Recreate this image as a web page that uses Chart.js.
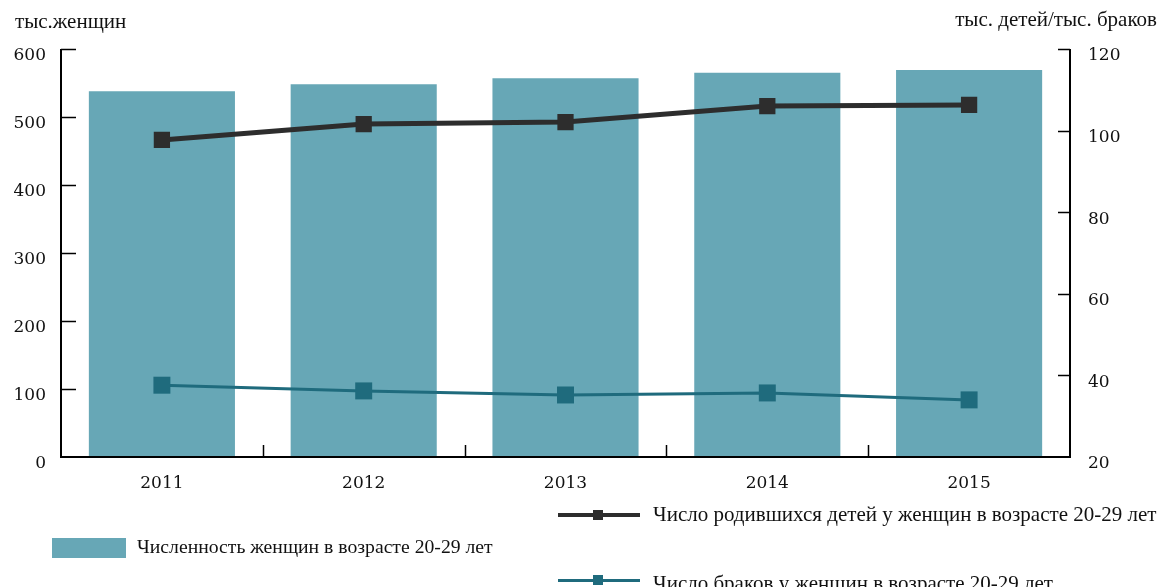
<!DOCTYPE html>
<html>
<head>
<meta charset="utf-8">
<script src="https://cdn.jsdelivr.net/npm/chart.js@4.4.1/dist/chart.umd.min.js"></script>
<style>
  html, body { margin: 0; padding: 0; background: #fff; }
  #wrap { position: relative; width: 1163px; height: 587px; overflow: hidden; font-family: "Liberation Serif", "DejaVu Serif", serif; color: #111; }
  canvas { position: absolute; left: 0; top: 0; }
  .t { position: absolute; white-space: nowrap; font-size: 21px; line-height: 1; }
  .sw { position: absolute; }
</style>
</head>
<body>
<div id="wrap">
  <canvas id="c" width="1163" height="587"></canvas>
  <div class="t" id="tl" style="left:15px; top:11px;">тыс.женщин</div>
  <div class="t" id="tr" style="right:6px; top:9px;">тыс. детей/тыс. браков</div>

  <div class="sw" style="left:52px; top:538px; width:74px; height:20px; background:#67a7b6;"></div>
  <div class="t" style="left:137px; top:537px; font-size:19.7px;">Численность женщин в возрасте 20-29 лет</div>

  <div class="sw" style="left:558px; top:513px; width:82px; height:4px; background:#2d2d2d;"></div>
  <div class="sw" style="left:593px; top:510px; width:10px; height:10px; background:#2d2d2d;"></div>
  <div class="t" style="left:653px; top:504px;">Число родившихся детей у женщин в возрасте 20-29 лет</div>

  <div class="sw" style="left:558px; top:579px; width:82px; height:3px; background:#1f6b7d;"></div>
  <div class="sw" style="left:593px; top:575px; width:10px; height:10px; background:#1f6b7d;"></div>
  <div class="t" style="left:653px; top:573px;">Число браков у женщин в возрасте 20-29 лет</div>
</div>
<script>
const years = ['2011', '2012', '2013', '2014', '2015'];
const womenThousands = [538, 548, 557, 565, 569];
const birthsPerThousand = [97.7, 101.6, 102.1, 106.0, 106.3];
const marriagesPerThousand = [37.6, 36.2, 35.2, 35.7, 34.0];
const leftTicks = [0, 100, 200, 300, 400, 500, 600];
const rightTicks = [20, 40, 60, 80, 100, 120];

const BAR = '#67a7b6', BLACK = '#2d2d2d', TEAL = '#1f6b7d';
const TICK_FONT = '17px "DejaVu Serif", serif';

const axisPlugin = {
  id: 'axisPlugin',
  afterDraw(chart) {
    const ctx = chart.ctx;
    const a = chart.chartArea;
    const y = chart.scales.y, y1 = chart.scales.y1, x = chart.scales.x;
    ctx.save();
    ctx.strokeStyle = '#000';
    ctx.lineWidth = 2;
    ctx.beginPath();
    ctx.moveTo(a.left, a.top); ctx.lineTo(a.left, a.bottom); ctx.lineTo(a.right, a.bottom); ctx.lineTo(a.right, a.top);
    ctx.stroke();
    ctx.lineWidth = 1.5;
    ctx.beginPath();
    leftTicks.forEach(v => { const py = Math.round(y.getPixelForValue(v)) + 0.5; if (v > 0) { ctx.moveTo(a.left, py); ctx.lineTo(a.left + 15, py); } });
    rightTicks.forEach(v => { const py = Math.round(y1.getPixelForValue(v)) + 0.5; if (v > 20) { ctx.moveTo(a.right, py); ctx.lineTo(a.right - 12, py); } });
    for (let i = 1; i < years.length; i++) {
      const px = Math.round((x.getPixelForValue(i - 1) + x.getPixelForValue(i)) / 2) + 0.5;
      ctx.moveTo(px, a.bottom); ctx.lineTo(px, a.bottom - 12);
    }
    ctx.stroke();
    ctx.fillStyle = '#111';
    ctx.font = TICK_FONT;
    ctx.textBaseline = 'middle';
    ctx.textAlign = 'right';
    leftTicks.forEach(v => ctx.fillText(String(v), a.left - 15, y.getPixelForValue(v) + 7));
    ctx.textAlign = 'left';
    rightTicks.forEach(v => ctx.fillText(String(v), a.right + 18, y1.getPixelForValue(v) + 7));
    ctx.textAlign = 'center';
    years.forEach((lab, i) => ctx.fillText(lab, x.getPixelForValue(i), a.bottom + 27));
    ctx.restore();
  }
};

new Chart(document.getElementById('c'), {
  data: {
    labels: years,
    datasets: [
      { type: 'line', label: 'Число родившихся детей у женщин в возрасте 20-29 лет', data: birthsPerThousand, yAxisID: 'y1',
        borderColor: BLACK, backgroundColor: BLACK, borderWidth: 5, pointStyle: 'rect', pointRadius: 11.5, pointBorderWidth: 0, order: 1, tension: 0 },
      { type: 'line', label: 'Число браков у женщин в возрасте 20-29 лет', data: marriagesPerThousand, yAxisID: 'y1',
        borderColor: TEAL, backgroundColor: TEAL, borderWidth: 3, pointStyle: 'rect', pointRadius: 12, pointBorderWidth: 0, order: 2, tension: 0 },
      { type: 'bar', label: 'Численность женщин в возрасте 20-29 лет', data: womenThousands, yAxisID: 'y',
        backgroundColor: BAR, borderWidth: 0, categoryPercentage: 1, barPercentage: 0.724, order: 3 }
    ]
  },
  options: {
    responsive: false,
    animation: false,
    devicePixelRatio: 1,
    layout: { padding: { top: 49, left: 0, right: 0, bottom: 0 } },
    plugins: { legend: { display: false }, tooltip: { enabled: false } },
    scales: {
      x: { type: 'category', grid: { display: false }, border: { display: false }, ticks: { display: false },
           afterFit(s) { s.height = 130; } },
      y: { type: 'linear', position: 'left', min: 0, max: 600, grid: { display: false }, border: { display: false },
           ticks: { display: false, stepSize: 100 }, afterFit(s) { s.width = 61; } },
      y1: { type: 'linear', position: 'right', min: 20, max: 120, grid: { display: false }, border: { display: false },
           ticks: { display: false, stepSize: 20 }, afterFit(s) { s.width = 93; } }
    }
  },
  plugins: [axisPlugin]
});
</script>
</body>
</html>
